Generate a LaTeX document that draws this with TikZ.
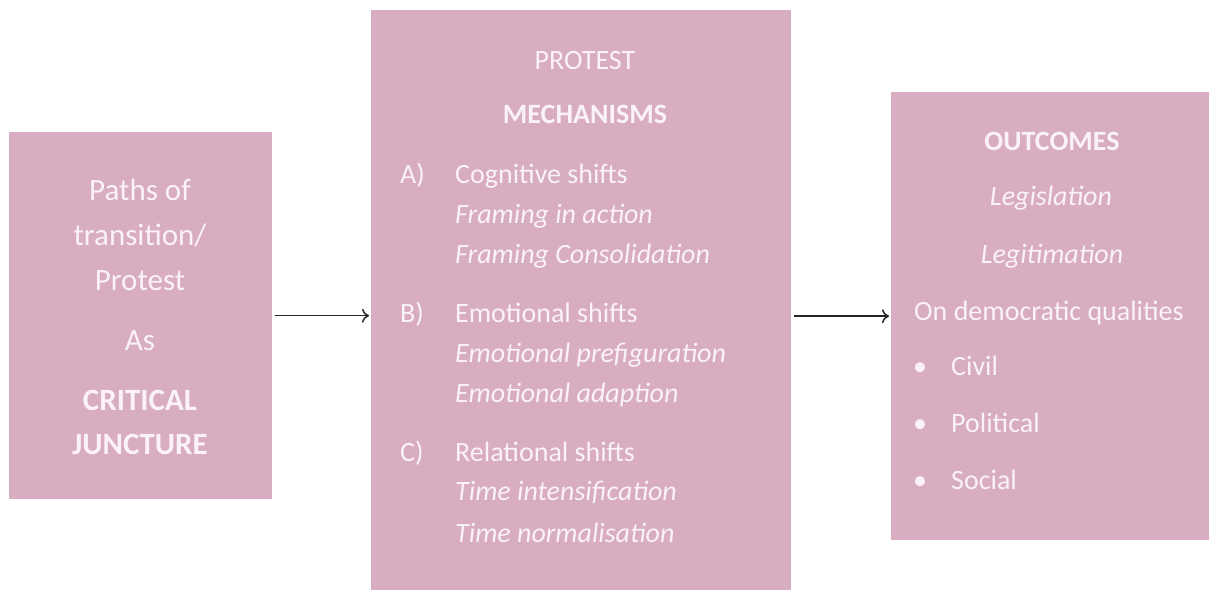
\documentclass[tikz,border=0pt]{standalone}
\usepackage{fontspec}
\setmainfont{Carlito}
\usetikzlibrary{arrows,arrows.meta,positioning,calc}
\definecolor{boxpink}{HTML}{D8ADC2}
\definecolor{txtwhite}{HTML}{FAF2F6}
\tikzset{
  panel/.style={fill=boxpink,draw=none,inner sep=0pt,anchor=north west},
  txt/.style={text=txtwhite,inner sep=0pt,font=\fontsize{28}{34}\selectfont},
  big/.style={txt,anchor=base,font=\fontsize{31}{37}\selectfont},
  lft/.style={txt,anchor=base west},
  mid/.style={txt,anchor=base},
  flow/.style={-{To[length=7pt,width=14pt,line width=1.5pt]},line width=1.5pt,draw=black!85}
}
\begin{document}
\begin{tikzpicture}[x=1pt,y=-1pt]
\useasboundingbox (0,0) rectangle (1209,591);
% boxes
\node[panel,minimum width=263pt,minimum height=367pt] (paths) at (9,132) {};
\node[panel,minimum width=420pt,minimum height=580pt] (mech) at (371,10) {};
\node[panel,minimum width=318pt,minimum height=448pt] (outc) at (891,92) {};
% left box
\node[big] (p1) at (140,200) {Paths of};
\node[big] (p2) at (140,245) {transition/};
\node[big] (p3) at (140,290) {Protest};
\node[big] (p4) at (140,350) {As};
\node[big] (p5) at (140,410) {\bfseries CRITICAL};
\node[big] (p6) at (140,454) {\bfseries JUNCTURE};
% middle box
\node[mid] (m1) at (585,70) {PROTEST};
\node[mid] (m2) at (585,124) {\bfseries MECHANISMS};
\node[lft] (ma) at (400,183) {A)};
\node[lft] (ma1) at (455,183) {Cognitive shifts};
\node[lft] (ma2) at (455,223) {\itshape Framing in action};
\node[lft] (ma3) at (455,263) {\itshape Framing Consolidation};
\node[lft] (mb) at (400,322) {B)};
\node[lft] (mb1) at (455,322) {Emotional shifts};
\node[lft] (mb2) at (455,362) {\itshape Emotional prefiguration};
\node[lft] (mb3) at (455,402) {\itshape Emotional adaption};
\node[lft] (mc) at (400,461) {C)};
\node[lft] (mc1) at (455,461) {Relational shifts};
\node[lft] (mc2) at (455,500) {\itshape Time intensification};
\node[lft] (mc3) at (455,542) {\itshape Time normalisation};
% right box
\node[mid] (o1) at (1052,150) {\bfseries OUTCOMES};
\node[mid] (o2) at (1051,205) {\itshape Legislation};
\node[mid] (o3) at (1052,263) {\itshape Legitimation};
\node[lft] (o4) at (914,320) {On democratic qualities};
\foreach \y/\t [count=\i] in {375/Civil,432/Political,489/Social}{
  \node[lft] (b\i) at (913,\y) {•};
  \node[lft] (q\i) at (951,\y) {\t};
}
% arrows
\draw[flow,shorten <=3pt,shorten >=2pt] (paths.east) -- (paths.east -| mech.west);
\draw[flow,shorten <=3pt,shorten >=2pt] (outc.west -| mech.east) -- (outc.west);
\end{tikzpicture}
\end{document}
